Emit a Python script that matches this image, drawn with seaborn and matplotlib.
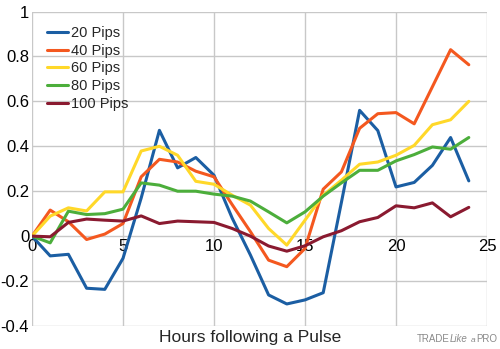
import matplotlib
matplotlib.use('Agg')
from matplotlib import pyplot as plt
import seaborn as sns
import pandas as pd

# hours after the pulse
hours = list(range(25))

# values
pips20 = [0, -0.088, -0.081, -0.232, -0.237, -0.099, 0.17, 0.471, 0.304, 0.35, 0.271,
          0.08, -0.084, -0.262, -0.302, -0.284, -0.252, 0.15, 0.56, 0.47, 0.219,
          0.239, 0.315, 0.439, 0.246]
pips40 = [0, 0.116, 0.064, -0.015, 0.009, 0.056, 0.264, 0.342, 0.33, 0.289, 0.264,
          0.14, 0.02, -0.107, -0.136, -0.055, 0.209, 0.286, 0.48, 0.545, 0.55,
          0.50, 0.665, 0.83, 0.763]
pips60 = [0, 0.089, 0.126, 0.112, 0.197, 0.197, 0.379, 0.40, 0.36, 0.244, 0.231,
          0.182, 0.138, 0.034, -0.04, 0.071, 0.182, 0.249, 0.32, 0.33, 0.36,
          0.404, 0.496, 0.518, 0.60]
pips80 = [0, -0.03, 0.111, 0.096, 0.10, 0.12, 0.237, 0.227, 0.20, 0.20, 0.187,
          0.178, 0.156, 0.108, 0.059, 0.108, 0.178, 0.237, 0.293, 0.293, 0.335,
          0.363, 0.397, 0.387, 0.439]
pips100 = [0, -0.003, 0.061, 0.076, 0.071, 0.067, 0.09, 0.056, 0.067, 0.064, 0.061,
           0.034, 0.0, -0.044, -0.067, -0.043, -0.003, 0.024, 0.064, 0.083, 0.135,
           0.126, 0.148, 0.086, 0.128]

series = ['20 Pips', '40 Pips', '60 Pips', '80 Pips', '100 Pips']
colors = ['#1b5ea3', '#f4581f', '#ffd829', '#4cae3b', '#8a1a30']

rows = []
for name, vals in zip(series, [pips20, pips40, pips60, pips80, pips100]):
    for h, v in zip(hours, vals):
        rows.append({'Hour': h, 'Value': v, 'Series': name})
df = pd.DataFrame(rows)

sns.set_style('white')
plt.rcParams['font.family'] = ['Liberation Sans', 'DejaVu Sans']

fig = plt.figure(figsize=(5, 3.49), dpi=100)
ax = fig.add_axes([0.064, 0.066, 0.91, 0.901])

sns.lineplot(data=df, x='Hour', y='Value', hue='Series', hue_order=series,
             palette=colors, linewidth=2.2, ax=ax, legend=False)

ax.set_xlim(0, 25)
ax.set_ylim(-0.4, 1)
ax.set_xticks([0, 5, 10, 15, 20, 25])
ax.set_yticks([-0.4, -0.2, 0, 0.2, 0.4, 0.6, 0.8, 1])
ax.set_yticklabels(['-0.4', '-0.2', '0', '0.2', '0.4', '0.6', '0.8', '1'])
ax.grid(True, color='#c8c8c8', linewidth=1)
ax.set_axisbelow(True)

# x labels sit on the zero line
ax.spines['bottom'].set_position(('data', 0))
for s in ax.spines.values():
    s.set_visible(False)
ax.tick_params(axis='both', length=0, labelsize=12, colors='black')
ax.tick_params(axis='x', pad=2)
ax.tick_params(axis='y', pad=2)

ax.set_xlabel('')
ax.set_ylabel('')
fig.text(0.50, 0.012, 'Hours following a Pulse', ha='center', va='bottom', fontsize=12.5)

handles = [plt.Line2D([], [], color=c, linewidth=2.2) for c in colors]
ax.legend(handles, series, loc='upper left', bbox_to_anchor=(0.0, 1.0), frameon=False,
          fontsize=10.5, handlelength=1.5, handletextpad=0.2, labelspacing=0.25,
          borderaxespad=0.6)

# watermark
fig.text(0.834, 0.015, 'TRADE', color='#8a8a8a', fontsize=7, ha='left', va='bottom')
fig.text(0.900, 0.015, 'Like', color='#8a8a8a', fontsize=7, style='italic', ha='left', va='bottom')
fig.text(0.941, 0.015, 'a', color='#8a8a8a', fontsize=6, style='italic', ha='left', va='bottom')
fig.text(0.953, 0.015, 'PRO', color='#8a8a8a', fontsize=7, ha='left', va='bottom')

fig.savefig('out.png', dpi=100)
